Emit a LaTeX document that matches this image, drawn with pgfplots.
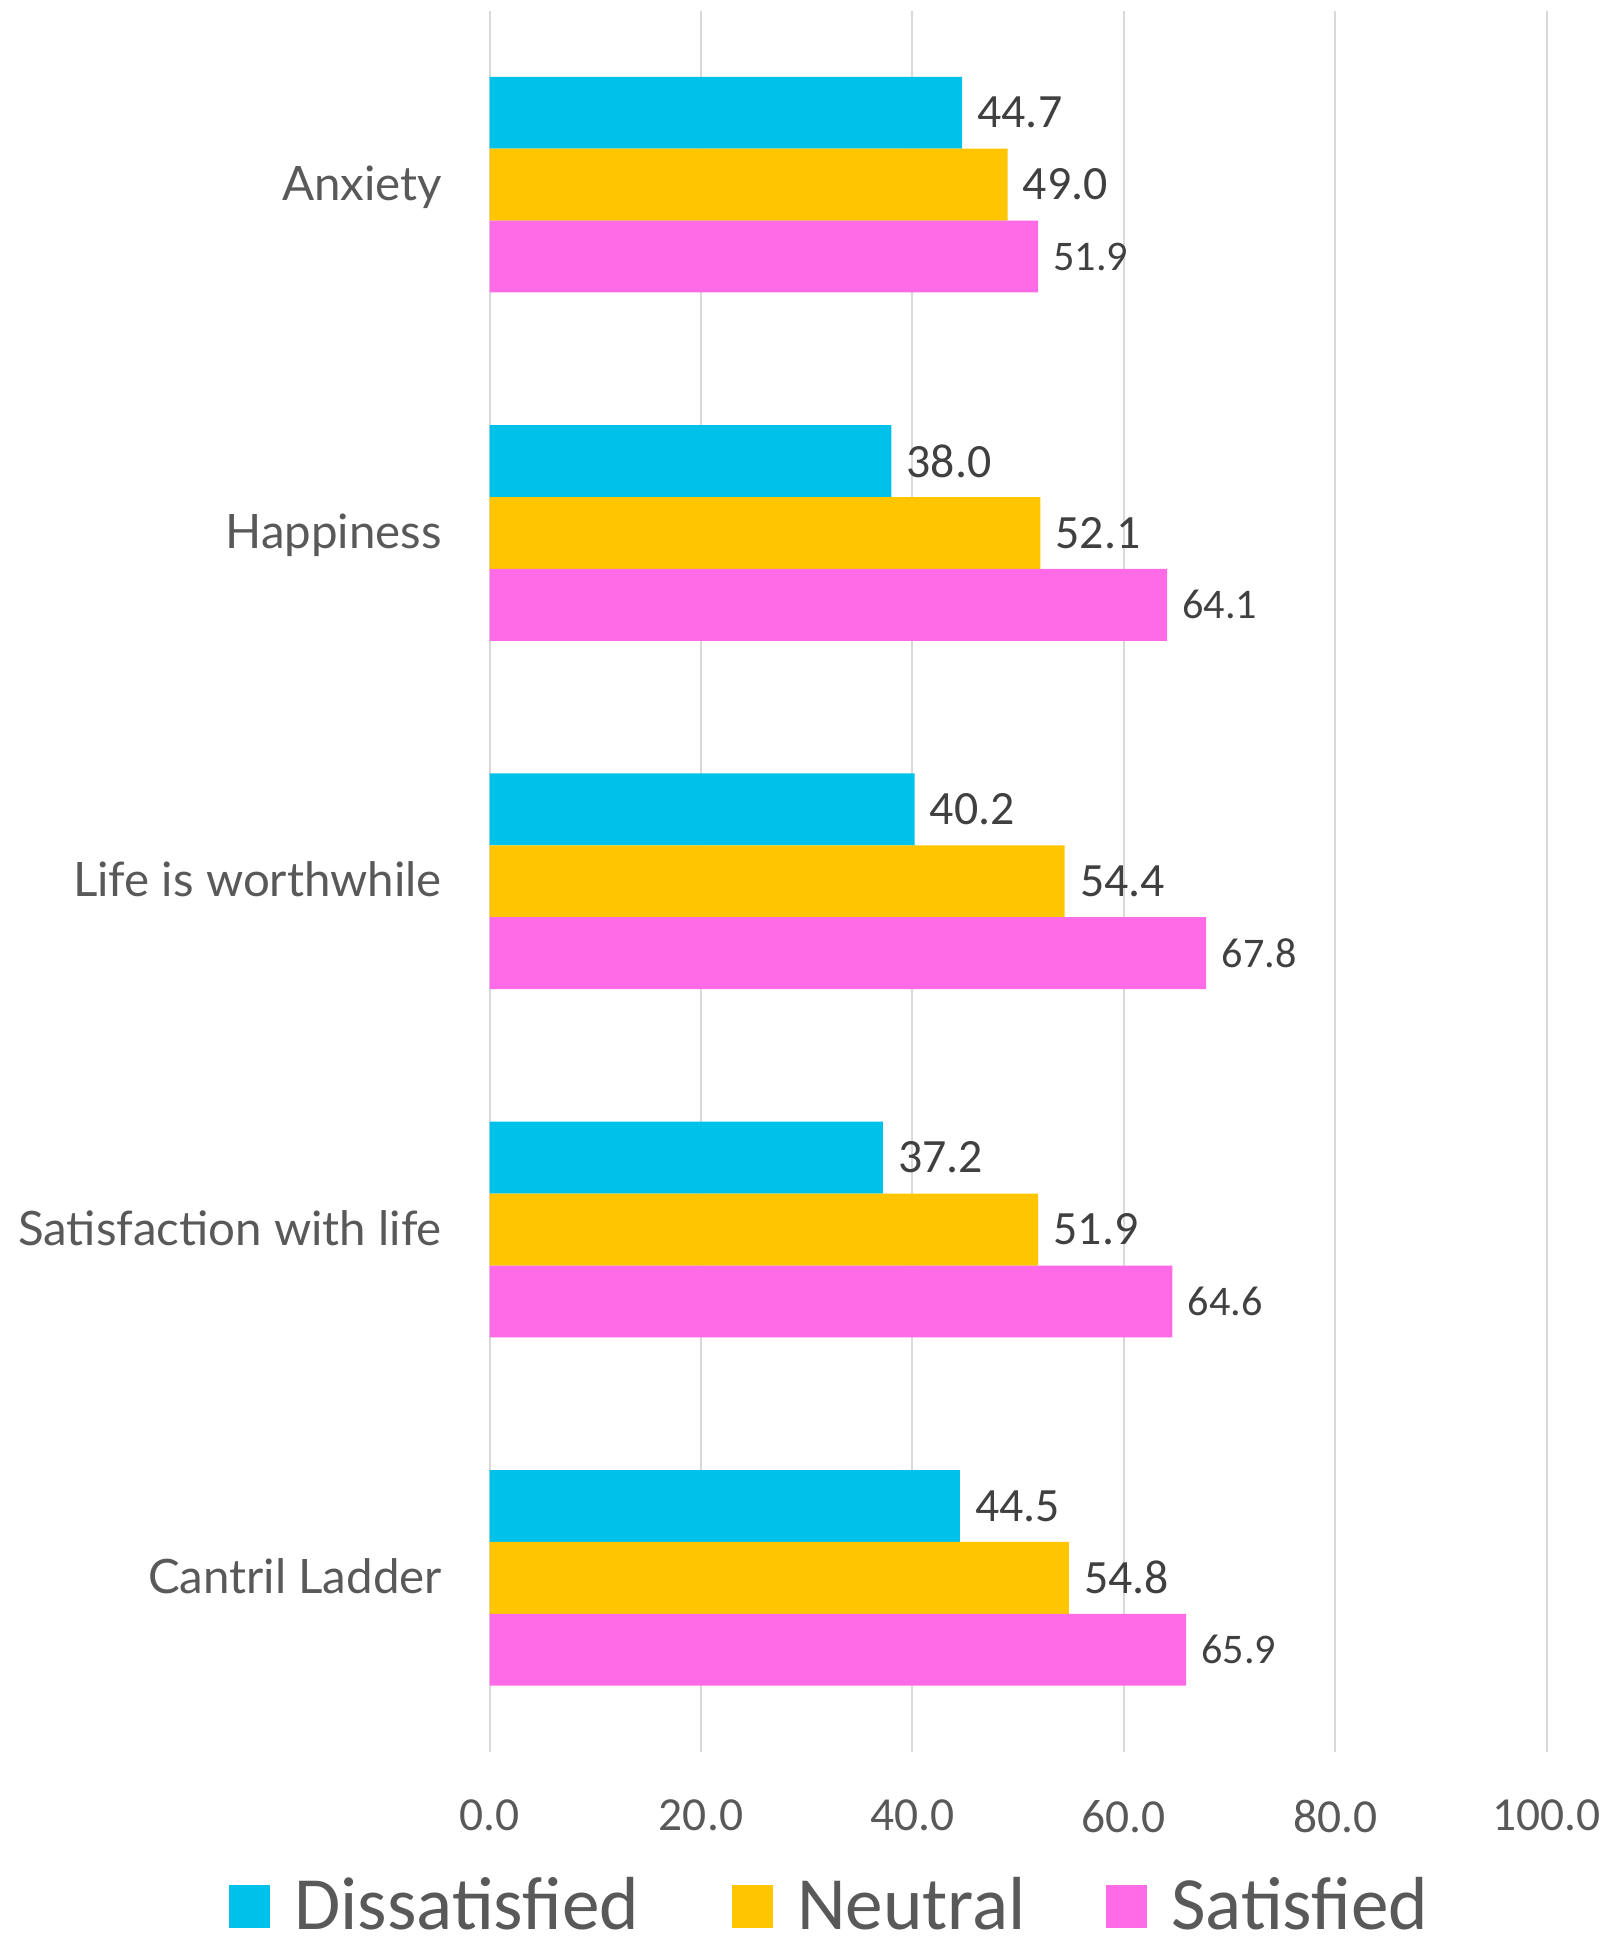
\documentclass[border=0pt]{standalone}
\usepackage{fontspec}
\setmainfont{Carlito}
\newfontfamily\catfont{Lato}
\usepackage{pgfplots}
\pgfplotsset{compat=1.18}
\definecolor{cdis}{HTML}{00C1EA}
\definecolor{cneu}{HTML}{FFC600}
\definecolor{csat}{HTML}{FF6BE6}
\definecolor{tgray}{HTML}{595959}
\definecolor{lgray}{HTML}{404040}
\definecolor{ggray}{HTML}{D9D9D9}
\begin{document}
\begin{tikzpicture}
\useasboundingbox (0,0) rectangle (161mm,194.4mm);
\begin{axis}[
  at={(48.96mm,19.2mm)}, anchor=south west,
  scale only axis, width=105.7mm, height=174.15mm,
  xbar, bar width=0.2064,
  xmin=0, xmax=100, ymin=-0.5, ymax=4.5,
  xtick={0,20,40,60,80,100},
  ytick={0,1,2,3,4},
  yticklabels={Cantril Ladder, Satisfaction with life, Life is worthwhile, Happiness, Anxiety},
  xticklabel={\pgfmathprintnumber[fixed,fixed zerofill,precision=1,assume math mode=true]{\tick}},
  xticklabel style={anchor=north, inner sep=0pt, yshift=-4.73mm, font=\fontsize{13.5}{13.5}\selectfont, text=tgray},
  yticklabel style={anchor=base east, inner sep=0pt, xshift=-4.7mm, yshift=-1.55mm, font=\catfont\fontsize{13.5}{13.5}\selectfont, text=tgray},
  xmajorgrids, major grid style={draw=ggray, line width=0.6pt},
  axis line style={draw=none},
  major tick length=0pt,
  point meta=x,
  nodes near coords={\pgfmathprintnumber[fixed,fixed zerofill,precision=1,assume math mode=true]{\pgfplotspointmeta}},
  nodes near coords style={text=lgray, anchor=west, xshift=0.3mm},
  legend columns=3,
  legend image code/.code={\fill[#1] (0mm,-2.15mm) rectangle (4.1mm,2.15mm);},
  legend style={at={(0.3208,-0.0885)}, anchor=center, draw=none, fill=none, inner sep=0pt,
    font=\fontsize{21.4}{21.4}\selectfont, text=tgray, nodes={inner sep=0pt},
    /tikz/every odd column/.append style={column sep=2.45mm},
    /tikz/column 2/.append style={column sep=9.2mm},
    /tikz/column 4/.append style={column sep=8.0mm}},
]
\addplot[fill=cdis, draw=none, bar shift=0.2064, every node near coord/.append style={font=\fontsize{13.6}{13.6}\selectfont}]
  coordinates {(44.5,0) (37.2,1) (40.2,2) (38.0,3) (44.7,4)};
\addplot[fill=cneu, draw=none, bar shift=0, every node near coord/.append style={font=\fontsize{13.6}{13.6}\selectfont}]
  coordinates {(54.8,0) (51.9,1) (54.4,2) (52.1,3) (49.0,4)};
\addplot[fill=csat, draw=none, bar shift=-0.2064, every node near coord/.append style={font=\fontsize{12}{12}\selectfont}]
  coordinates {(65.9,0) (64.6,1) (67.8,2) (64.1,3) (51.9,4)};
\legend{Dissatisfied, Neutral, Satisfied}
\end{axis}
\end{tikzpicture}
\end{document}
